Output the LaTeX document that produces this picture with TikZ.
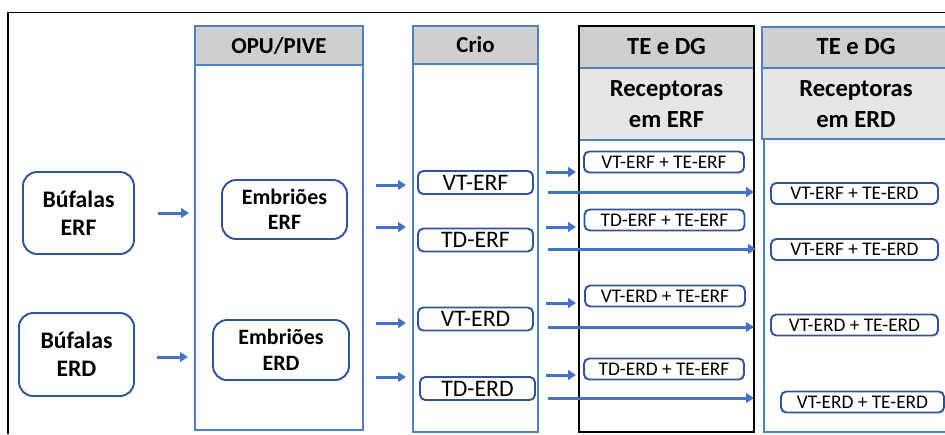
\documentclass[tikz,border=0pt]{standalone}
\usepackage{fontspec}
\setmainfont{Carlito}
\usetikzlibrary{arrows.meta}
\definecolor{arrowblue}{HTML}{4472C4}
\definecolor{boxblue}{HTML}{2F5597}
\definecolor{lineblue}{HTML}{4F81BD}
\definecolor{headgray}{HTML}{D0CECE}
\definecolor{subgray}{HTML}{E7E6E6}

\begin{document}
\begin{tikzpicture}[x=0.02cm,y=-0.02cm,
  bigbox/.style={draw=boxblue,line width=1.1pt,rounded corners=8pt,inner sep=0pt,align=center,font=\fontsize{13.5}{16}\selectfont\bfseries},
  embbox/.style={bigbox,font=\fontsize{12.5}{14.5}\selectfont\bfseries},
  criobox/.style={draw=boxblue,line width=1.1pt,rounded corners=3pt,inner sep=0pt,minimum width=2.3cm,minimum height=0.46cm,font=\fontsize{13.5}{14}\selectfont},
  tebox/.style={draw=boxblue,line width=1.1pt,rounded corners=3pt,inner sep=0pt,minimum height=0.42cm,font=\fontsize{11}{13}\selectfont},
  headtxt/.style={align=center,font=\fontsize{13}{15}\selectfont\bfseries},
  bighead/.style={align=center,font=\fontsize{14}{17.5}\selectfont\bfseries},
  arr/.style={draw=arrowblue,line width=1.7pt,-{Triangle[length=4.5pt,width=5.5pt]}}]

\useasboundingbox (0,0) rectangle (945,434);

% Outer frame
\draw[line width=0.6pt] (8,434) -- (8,12.5) -- (945,12.5);

% OPU/PIVE column
\draw[lineblue,line width=0.6pt] (195,26) rectangle (363,430);
\draw[lineblue,line width=0.8pt,fill=headgray] (195,26) rectangle (363,65);
\node[headtxt] (opu) at (279,45.5) {OPU/PIVE};

% Crio column
\draw[lineblue,line width=0.6pt] (413,26) rectangle (538,432);
\draw[lineblue,line width=0.8pt,fill=headgray] (413,26) rectangle (538,64);
\node[headtxt] (crio) at (475.5,45) {Crio};

% TE e DG - receptoras em ERF
\draw[lineblue,line width=0.8pt,fill=headgray] (579,26) rectangle (754,68);
\draw[lineblue,line width=0.8pt,fill=subgray] (579,68) rectangle (754,140);
\draw[line width=0.8pt] (579,26) rectangle (754,432);
\node[bighead] (teERF) at (666.5,47) {TE e DG};
\node[bighead] (recERF) at (666.5,104) {Receptoras\\em ERF};

% TE e DG - receptoras em ERD
\draw[lineblue,line width=0.8pt,fill=headgray] (762,27) rectangle (947,68);
\draw[lineblue,line width=0.8pt,fill=subgray] (762,68) rectangle (947,139);
\draw[lineblue,line width=0.6pt] (764,139) -- (764,432) -- (947,432);
\node[bighead] (teERD) at (856,47) {TE e DG};
\node[bighead] (recERD) at (856,104) {Receptoras\\em ERD};

% Doadoras
\node[bigbox,minimum width=2.22cm,minimum height=1.64cm] (bufERF) at (78.5,213) {Búfalas\\ERF};
\node[bigbox,minimum width=2.3cm,minimum height=1.66cm] (bufERD) at (76.5,354.5) {Búfalas\\ERD};

% Embrioes
\node[embbox,minimum width=2.5cm,minimum height=1.18cm] (embERF) at (284.5,209.5) {Embriões\\ERF};
\node[embbox,minimum width=2.72cm,minimum height=1.2cm] (embERD) at (281,350) {Embriões\\ERD};

% Crio
\node[criobox] (vtERF) at (475.5,182.5) {VT-ERF};
\node[criobox] (tdERF) at (475.5,240) {TD-ERF};
\node[criobox] (vtERD) at (475.5,319) {VT-ERD};
\node[criobox] (tdERD) at (477.5,388.5) {TD-ERD};

% Receptoras em ERF
\node[tebox,minimum width=3.2cm] (vtERFteERF) at (664,162) {VT-ERF + TE-ERF};
\node[tebox,minimum width=3.2cm] (tdERFteERF) at (664.5,220) {TD-ERF + TE-ERF};
\node[tebox,minimum width=3.2cm] (vtERDteERF) at (665,296) {VT-ERD + TE-ERF};
\node[tebox,minimum width=3.2cm] (tdERDteERF) at (664,369) {TD-ERD + TE-ERF};

% Receptoras em ERD
\node[tebox,minimum width=3.34cm] (vtERFteERD) at (854.5,193.5) {VT-ERF + TE-ERD};
\node[tebox,minimum width=3.34cm] (tdERFteERD) at (854.5,249.5) {VT-ERF + TE-ERD};
\node[tebox,minimum width=3.34cm] (vtERDteERD) at (854.5,325) {VT-ERD + TE-ERD};
\node[tebox,minimum width=3.26cm] (tdERDteERD) at (862.5,402) {VT-ERD + TE-ERD};

% Arrows - doadoras to OPU/PIVE
\draw[arr] ([xshift=0.46cm]bufERF.east) -- ++(31,0);
\draw[arr] ([shift={(22,2.5)}]bufERD.east) -- ++(31,0);

% Arrows - embrioes to crio
\draw[arr] ([shift={(28,-24.5)}]embERF.east) -- ++(30,0);
\draw[arr] ([shift={(28,17.5)}]embERF.east) -- ++(30,0);
\draw[arr] ([shift={(26,-27)}]embERD.east) -- ++(30,0);
\draw[arr] ([shift={(26,27)}]embERD.east) -- ++(30,0);

% Arrows - crio to receptoras
\draw[arr] ([shift={(12,-10.5)}]vtERF.east) -- ++(30,0); % to TE-ERF
\draw[arr] ([shift={(14,9.5)}]vtERF.east) -- ++(206,0); % to TE-ERD
\draw[arr] ([shift={(12,-13)}]tdERF.east) -- ++(30,0);
\draw[arr] ([shift={(14,9)}]tdERF.east) -- ++(208,0);
\draw[arr] ([shift={(12,-16)}]vtERD.east) -- ++(30,0);
\draw[arr] ([shift={(14,8)}]vtERD.east) -- ++(206,0);
\draw[arr] ([shift={(10,-13.5)}]tdERD.east) -- ++(30,0);
\draw[arr] ([shift={(12,9.5)}]tdERD.east) -- ++(206,0);

\end{tikzpicture}
\end{document}
